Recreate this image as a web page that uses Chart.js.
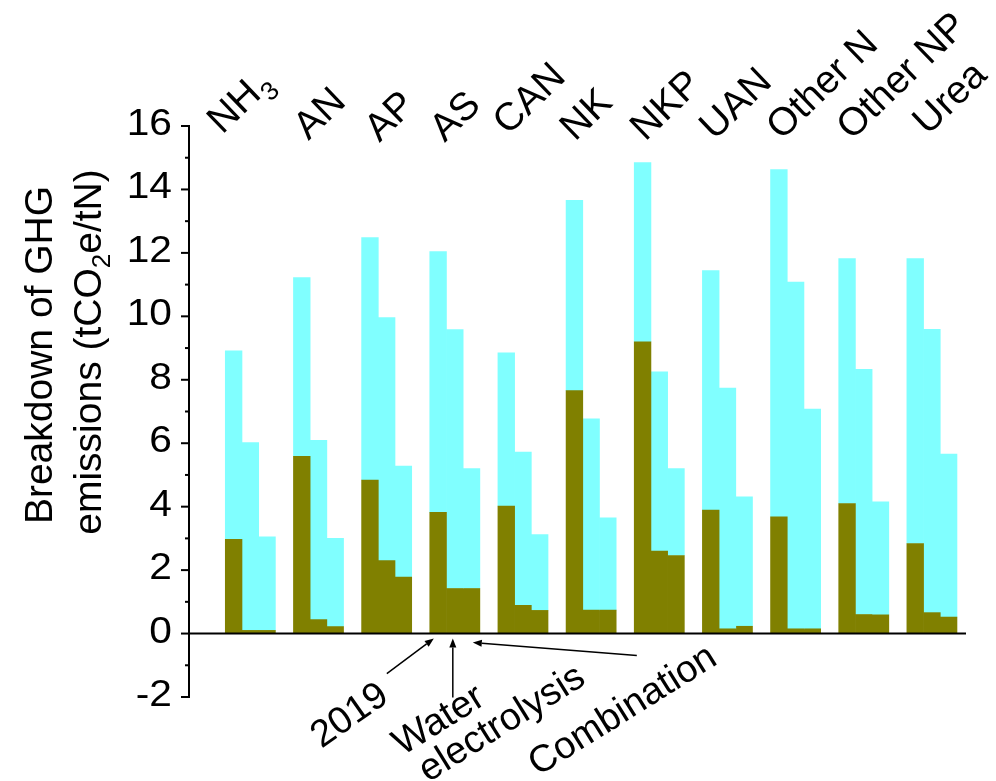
<!DOCTYPE html>
<html>
<head>
<meta charset="utf-8">
<script src="https://cdn.jsdelivr.net/npm/chart.js@4/dist/chart.umd.min.js"></script>
<style>
  html, body { margin: 0; padding: 0; background: #fff; }
  #c { display: block; }
</style>
</head>
<body>
<canvas id="c" width="996" height="781"></canvas>
<script>
// Fertilizer products
const categories = ['NH3', 'AN', 'AP', 'AS', 'CAN', 'NK', 'NKP', 'UAN', 'Other N', 'Other NP', 'Urea'];
// Scenarios, one bar each per product
const scenarios = ['2019', 'Water electrolysis', 'Combination'];

// Lower (olive) and upper (cyan) parts of each bar, tCO2e/tN
const lower2019  = [2.97, 5.59, 4.84, 3.82, 4.02, 7.66, 9.20, 3.89, 3.68, 4.10, 2.84];
const upper2019  = [5.94, 5.63, 7.64, 8.22, 4.83, 6.00, 5.65, 7.55, 10.95, 7.72, 8.98];
const lowerWater = [0.10, 0.44, 2.30, 1.42, 0.89, 0.74, 2.60, 0.15, 0.15, 0.60, 0.66];
const upperWater = [5.92, 5.65, 7.66, 8.16, 4.83, 6.03, 5.65, 7.59, 10.93, 7.73, 8.93];
const lowerComb  = [0.10, 0.22, 1.78, 1.42, 0.73, 0.74, 2.46, 0.23, 0.15, 0.59, 0.52];
const upperComb  = [2.95, 2.78, 3.50, 3.78, 2.39, 2.91, 2.74, 4.08, 6.93, 3.56, 5.14];

// Value axis tick labels
const yTicks = [-2, 0, 2, 4, 6, 8, 10, 12, 14, 16];

const OLIVE = '#808000';
const CYAN = '#80FFFF';
const FONT = "'Liberation Sans', Arial, sans-serif";
const BAR_W = 16.7;

const pts = arr => arr.map((v, i) => ({ x: i, y: v }));

function makeSet(label, values, color, stack) {
  return {
    label: label,
    data: pts(values),
    backgroundColor: color,
    borderWidth: 0,
    stack: stack,
    barThickness: BAR_W
  };
}

// Hand-placed offsets of the product names above the groups
const labelShift = { 'NH3': [-18, -6], 'AP': [3, 2], 'AS': [0, 2], 'CAN': [-5, -5], 'NK': [-6, 1], 'NKP': [-4, 1], 'UAN': [-3, 0], 'Urea': [6, -5], 'Other NP': [-2, 0], 'Other N': [-4, 0] };

function arrow(ctx, fx, fy, tx, ty) {
  const ang = Math.atan2(ty - fy, tx - fx);
  const head = 9, half = 3.5;
  const bx = tx - head * Math.cos(ang), by = ty - head * Math.sin(ang);
  ctx.beginPath();
  ctx.moveTo(fx, fy);
  ctx.lineTo(bx, by);
  ctx.stroke();
  ctx.beginPath();
  ctx.moveTo(tx, ty);
  ctx.lineTo(bx + half * Math.sin(ang), by - half * Math.cos(ang));
  ctx.lineTo(bx - half * Math.sin(ang), by + half * Math.cos(ang));
  ctx.closePath();
  ctx.fill();
}

const decor = {
  id: 'decor',
  afterDatasetsDraw(chart) {
    const { ctx, chartArea, scales } = chart;
    const xs = scales.x, ys = scales.y;
    const left = chartArea.left, right = chartArea.right;
    ctx.save();
    ctx.strokeStyle = '#000';
    ctx.fillStyle = '#000';
    ctx.lineWidth = 2;

    // value axis with major and minor ticks
    const yTop = ys.getPixelForValue(yTicks[yTicks.length - 1]);
    const yBot = ys.getPixelForValue(yTicks[0]);
    ctx.lineCap = 'square';
    ctx.beginPath();
    ctx.moveTo(left, yTop);
    ctx.lineTo(left, yBot);
    ctx.stroke();
    ctx.lineCap = 'butt';
    yTicks.forEach((v, k) => {
      const py = ys.getPixelForValue(v);
      ctx.beginPath();
      ctx.moveTo(left - 8, py);
      ctx.lineTo(left, py);
      ctx.stroke();
      if (k < yTicks.length - 1) {
        const pm = ys.getPixelForValue((v + yTicks[k + 1]) / 2);
        ctx.beginPath();
        ctx.moveTo(left - 4, pm);
        ctx.lineTo(left, pm);
        ctx.stroke();
      }
      ctx.save();
      ctx.translate(left - 17, py + 9);
      ctx.scale(1.1, 1);
      ctx.font = '37px ' + FONT;
      ctx.textAlign = 'right';
      ctx.textBaseline = 'alphabetic';
      ctx.fillText(String(v), 0, 0);
      ctx.restore();
    });

    // zero line
    const y0 = ys.getPixelForValue(0);
    ctx.beginPath();
    ctx.moveTo(left, y0);
    ctx.lineTo(right, y0);
    ctx.stroke();

    // product names, rotated
    ctx.textAlign = 'left';
    ctx.textBaseline = 'alphabetic';
    categories.forEach((name, i) => {
      const sh = labelShift[name] || [0, 0];
      const gx = xs.getPixelForValue(i) - 1.5 * BAR_W + 15 + sh[0];
      const gy = 141 + sh[1];
      ctx.save();
      ctx.translate(gx, gy);
      ctx.rotate(-44 * Math.PI / 180);
      ctx.font = '39px ' + FONT;
      if (name === 'NH3') {
        ctx.fillText('NH', 0, 0);
        const w = ctx.measureText('NH').width;
        ctx.font = '26px ' + FONT;
        ctx.fillText('3', w + 1, 10);
      } else {
        ctx.fillText(name, 0, 0);
      }
      ctx.restore();
    });

    // value axis title
    const drawRuns = (runs, bx, cy, size) => {
      ctx.save();
      ctx.translate(bx, cy);
      ctx.rotate(-Math.PI / 2);
      let total = 0;
      runs.forEach(r => {
        ctx.font = (r[1] ? Math.round(size * 0.66) : size) + 'px ' + FONT;
        total += ctx.measureText(r[0]).width;
      });
      let pos = -total / 2;
      runs.forEach(r => {
        ctx.font = (r[1] ? Math.round(size * 0.66) : size) + 'px ' + FONT;
        ctx.fillText(r[0], pos, r[1] ? 9 : 0);
        pos += ctx.measureText(r[0]).width;
      });
      ctx.restore();
    };
    drawRuns([['Breakdown of GHG', false]], 52, 355, 39);
    drawRuns([['emissions (tCO', false], ['2', true], ['e/tN)', false]], 101, 352, 39);

    // scenario call-outs on the AS group
    const cAS = xs.getPixelForValue(categories.indexOf('AS'));
    const tipY = y0 + 5;
    ctx.lineWidth = 1.5;
    arrow(ctx, cAS - 68, tipY + 35, cAS - 21, tipY);
    arrow(ctx, cAS - 2, tipY + 59, cAS - 2, tipY);
    arrow(ctx, cAS + 182, tipY + 17, cAS + 18, tipY + 4);

    const rot = -32 * Math.PI / 180;
    ctx.font = '38px ' + FONT;
    ctx.textBaseline = 'middle';
    ctx.textAlign = 'center';
    ctx.save();
    ctx.translate(350, 716);
    ctx.rotate(-35 * Math.PI / 180);
    ctx.fillText(scenarios[0], 0, 0);
    ctx.restore();

    ctx.save();
    ctx.translate(439, 721);
    ctx.rotate(rot);
    ctx.textAlign = 'left';
    const wWater = ctx.measureText('Water').width;
    ctx.fillText('Water', -wWater / 2, 0);
    ctx.fillText('electrolysis', -wWater / 2 + 8, 36);
    ctx.restore();

    ctx.save();
    ctx.translate(623, 711);
    ctx.rotate(rot);
    ctx.fillText(scenarios[2], 0, 0);
    ctx.restore();

    ctx.restore();
  }
};

new Chart(document.getElementById('c'), {
  type: 'bar',
  data: {
    datasets: [
      makeSet(scenarios[0] + ' lower', lower2019, OLIVE, 's2019'),
      makeSet(scenarios[0] + ' upper', upper2019, CYAN, 's2019'),
      makeSet(scenarios[1] + ' lower', lowerWater, OLIVE, 'sWater'),
      makeSet(scenarios[1] + ' upper', upperWater, CYAN, 'sWater'),
      makeSet(scenarios[2] + ' lower', lowerComb, OLIVE, 'sComb'),
      makeSet(scenarios[2] + ' upper', upperComb, CYAN, 'sComb')
    ]
  },
  options: {
    responsive: false,
    animation: false,
    devicePixelRatio: 1,
    layout: { padding: { left: 189, right: 30, top: 126, bottom: 84 } },
    plugins: { legend: { display: false }, tooltip: { enabled: false } },
    scales: {
      x: { type: 'linear', min: -0.9, max: 10.5, offset: false, display: false },
      y: { min: -2, max: 16, stacked: true, display: false }
    }
  },
  plugins: [decor]
});
</script>
</body>
</html>
